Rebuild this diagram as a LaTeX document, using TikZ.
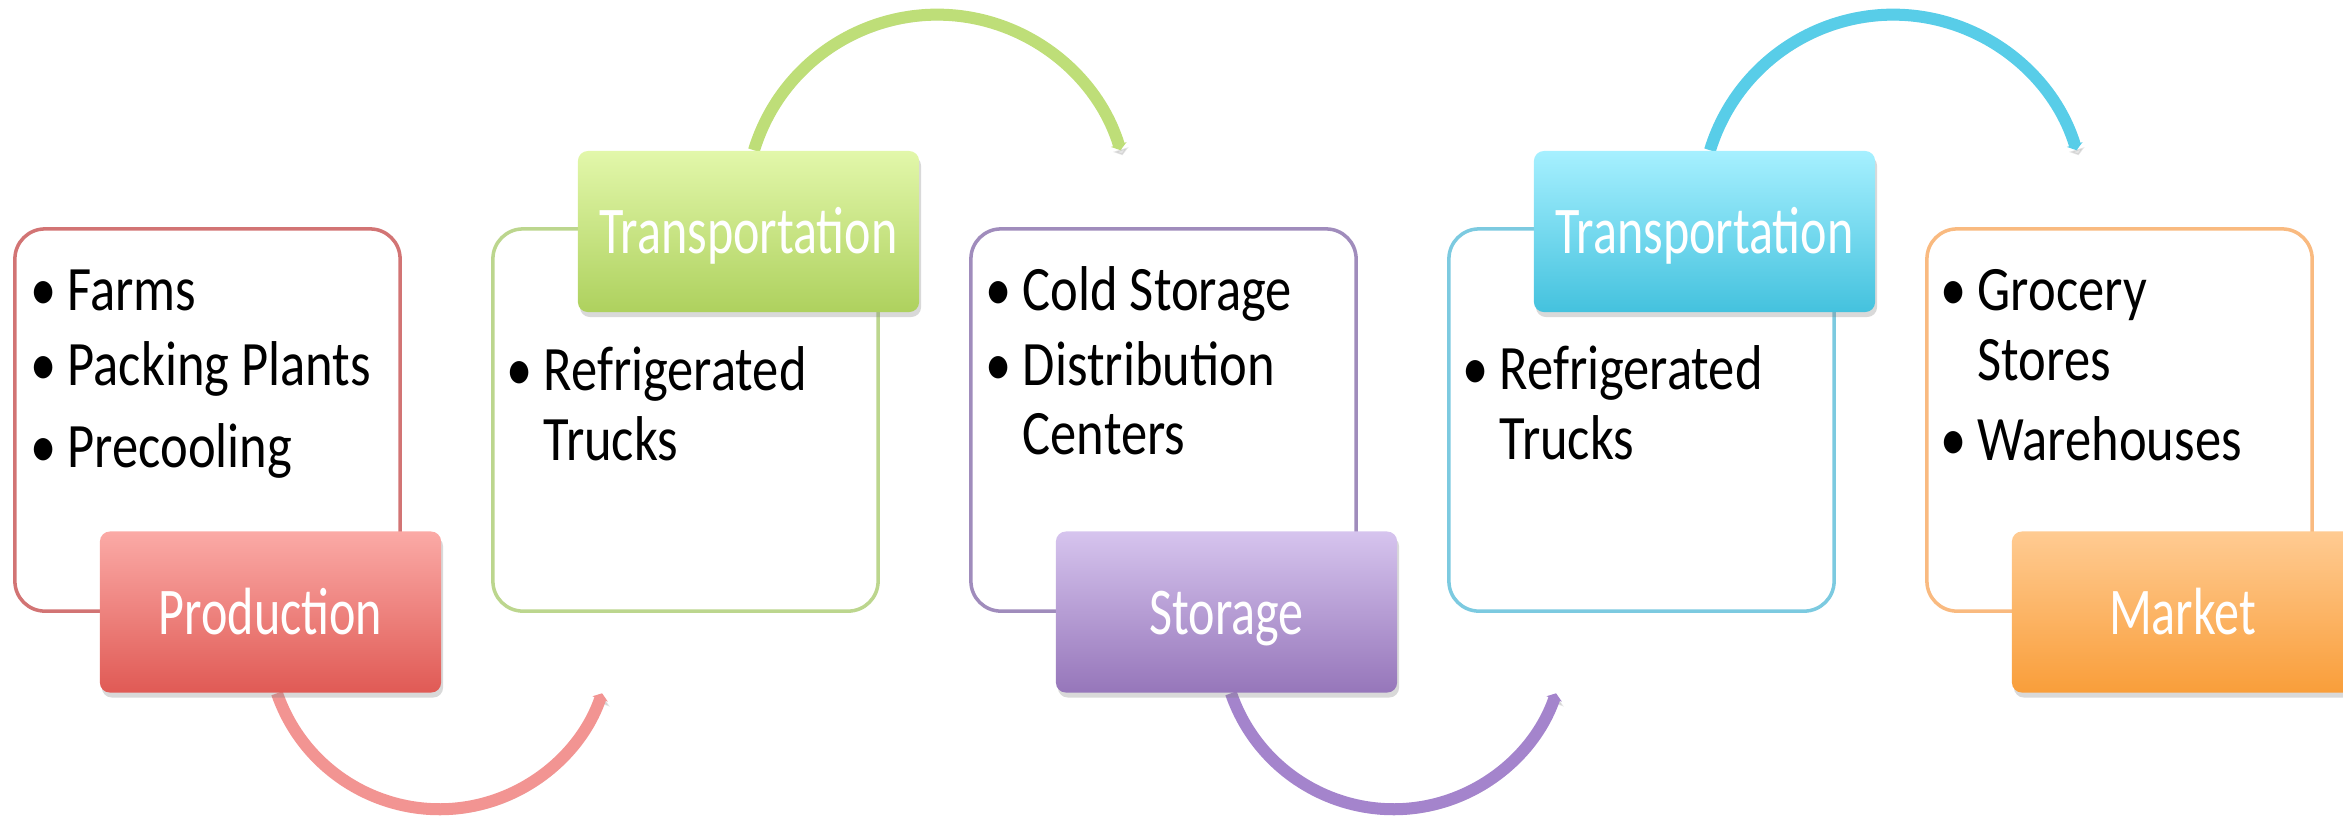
\documentclass[tikz,border=0pt]{standalone}
\usepackage{fontspec}
\setmainfont{Carlito}[FakeStretch=0.83]
\newfontfamily\labfont{Carlito}[FakeStretch=0.75]
\usetikzlibrary{arrows.meta,shadows,backgrounds}
\definecolor{rline}{HTML}{D27474}\definecolor{rtop}{HTML}{FBAAA6}\definecolor{rbot}{HTML}{E05A55}\definecolor{rarc}{HTML}{F29492}
\definecolor{gline}{HTML}{BCD68E}\definecolor{gtop}{HTML}{E2F7AA}\definecolor{gbot}{HTML}{AED15E}\definecolor{garc}{HTML}{BEDE78}
\definecolor{pline}{HTML}{A08CBC}\definecolor{ptop}{HTML}{D6C4EE}\definecolor{pbot}{HTML}{9676BA}\definecolor{parc}{HTML}{A484CC}
\definecolor{cline}{HTML}{7CCAE0}\definecolor{ctop}{HTML}{A6F0FF}\definecolor{cbot}{HTML}{44C2DE}\definecolor{carc}{HTML}{58CDE8}
\definecolor{oline}{HTML}{F9BA80}\definecolor{otop}{HTML}{FFCB92}\definecolor{obot}{HTML}{F99E3A}
\begin{document}
\begin{tikzpicture}[x=0.01cm,y=0.01cm,
  outbox/.style={draw, line width=1pt, rounded corners=0.3cm, minimum width=3.85cm, minimum height=3.82cm, inner sep=0},
  lab/.style={rounded corners=0.1cm, minimum width=3.41cm, minimum height=1.61cm, inner sep=0, text=white,
    font=\labfont\fontsize{19}{22}\selectfont, text height=0.64cm, text depth=0.2cm,
    drop shadow={shadow xshift=0.02cm, shadow yshift=-0.05cm, opacity=0.3}},
  items/.style={anchor=base west, inner sep=0, font=\fontsize{18}{19.9}\selectfont},
  flow/.style={line width=0.12cm, -{Triangle[length=0.06cm, width=0.16cm]},
    preaction={draw=black!40, opacity=0.25, transform canvas={shift={(0.02cm,-0.05cm)}}}},
]
\useasboundingbox (0,0) rectangle (2343,-817);
\newcommand{\bul}{\makebox[0.37cm][l]{•}}
% outline boxes
\node[outbox, draw=rline] (b1) at (207.5,-420) {};
\node[outbox, draw=gline] (b2) at (685.5,-420) {};
\node[outbox, draw=pline] (b3) at (1163.5,-420) {};
\node[outbox, draw=cline] (b4) at (1641.5,-420) {};
\node[outbox, draw=oline] (b5) at (2119.5,-420) {};
% item texts
\node[items] (t1) at (30,-310) {\begin{tabular}[t]{@{}l@{}l@{}}\bul&Farms\\[0.05cm]\bul&Packing Plants\\[0.13cm]\bul&Precooling\end{tabular}};
\node[items] (t2) at (506,-390) {\begin{tabular}[t]{@{}l@{}l@{}}\bul&Refrigerated\\&Trucks\end{tabular}};
\node[items] (t3) at (985,-310) {\begin{tabular}[t]{@{}l@{}l@{}}\bul&Cold Storage\\[0.05cm]\bul&Distribution\\&Centers\end{tabular}};
\node[items] (t4) at (1462,-389) {\begin{tabular}[t]{@{}l@{}l@{}}\bul&Refrigerated\\&Trucks\end{tabular}};
\node[items] (t5) at (1940,-310) {\begin{tabular}[t]{@{}l@{}l@{}}\bul&Grocery\\&Stores\\[0.11cm]\bul&Warehouses\end{tabular}};
% labels
\node[lab, top color=rtop, bottom color=rbot] (l1) at (270.5,-612) {Production};
\node[lab, top color=gtop, bottom color=gbot] (l2) at (748.5,-231.5) {Transportation};
\node[lab, top color=ptop, bottom color=pbot] (l3) at (1226.5,-612) {Storage};
\node[lab, top color=ctop, bottom color=cbot] (l4) at (1704.5,-231.5) {Transportation};
\node[lab, top color=otop, bottom color=obot] (l5) at (2182.5,-612) {Market};
% flow arcs
\begin{pgfonlayer}{background}
\draw[flow, draw=rarc] ([xshift=0.065cm]l1.south) arc[start angle=199, end angle=341, radius=1.718cm] coordinate (e1);
\draw[flow, draw=garc] ([xshift=0.055cm]l2.north) arc[start angle=163, end angle=17, radius=1.915cm] coordinate (e2);
\draw[flow, draw=parc] ([xshift=0.045cm]l3.south) arc[start angle=199, end angle=341, radius=1.718cm] coordinate (e3);
\draw[flow, draw=carc] ([xshift=0.055cm]l4.north) arc[start angle=163, end angle=17, radius=1.915cm] coordinate (e4);
\end{pgfonlayer}
\end{tikzpicture}
\end{document}
